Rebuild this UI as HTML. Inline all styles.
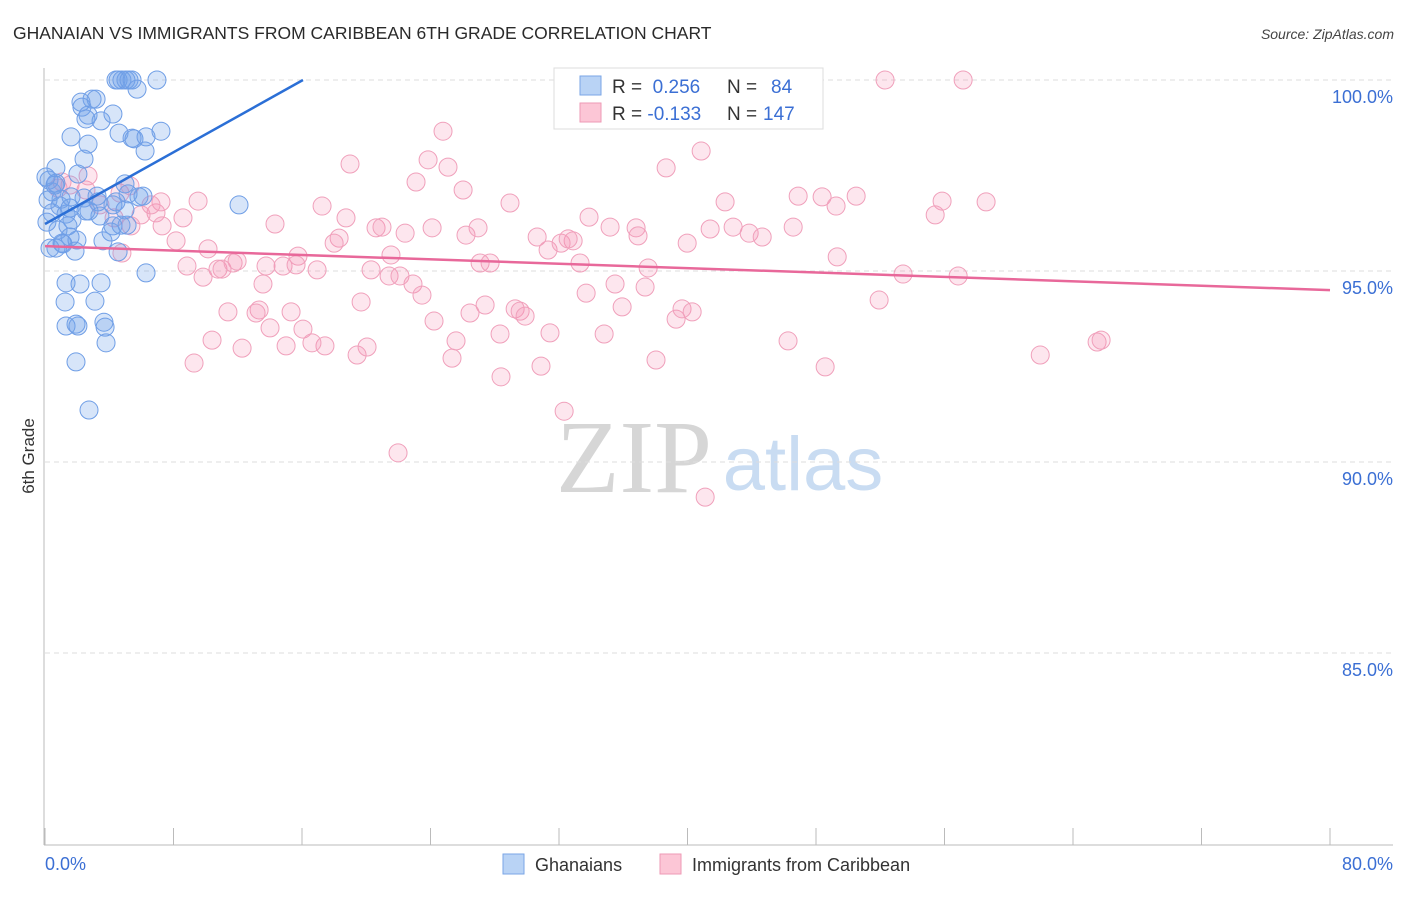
<!DOCTYPE html>
<html><head><meta charset="utf-8"><style>
body{margin:0;background:#fff;font-family:"Liberation Sans",sans-serif;}
</style></head><body>
<svg id="chart" width="1406" height="892" xmlns="http://www.w3.org/2000/svg" style="font-family:'Liberation Sans',sans-serif">
<text x="13" y="39" font-size="17.5" fill="#2a2a2a">GHANAIAN VS IMMIGRANTS FROM CARIBBEAN 6TH GRADE CORRELATION CHART</text>
<text x="1394" y="39" font-size="14" fill="#444" text-anchor="end" font-style="italic">Source: ZipAtlas.com</text>
<text x="34" y="456" font-size="17" fill="#333" text-anchor="middle" transform="rotate(-90 34 456)">6th Grade</text>
<g><text x="634" y="492" font-size="104" fill="#d6d6d6" text-anchor="middle" font-family="Liberation Serif,serif">ZIP</text><text x="803" y="490" font-size="76" fill="#c9dcf2" text-anchor="middle">atlas</text></g>
<g id="grid"></g><g id="axes"></g><g id="pts"></g><g id="lines"></g>
<g>
<rect x="554" y="68" width="269" height="61" fill="#fff" stroke="#ddd"/>
<rect x="580" y="76" width="21" height="19" fill="#b9d3f5" stroke="#7aa6e6"/>
<rect x="580" y="103" width="21" height="19" fill="#fcc6d6" stroke="#ee9ab5"/>
<text x="612" y="93" font-size="19" fill="#333">R = <tspan fill="#3b6fd4">&#160;0.256</tspan><tspan x="727">N = </tspan><tspan x="771" fill="#3b6fd4">84</tspan></text>
<text x="612" y="120" font-size="19" fill="#333">R = <tspan fill="#3b6fd4">-0.133</tspan><tspan x="727">N = </tspan><tspan x="763" fill="#3b6fd4">147</tspan></text>
</g>
<g>
<rect x="503" y="854" width="21" height="20" fill="#b9d3f5" stroke="#7aa6e6"/>
<text x="535" y="871" font-size="18" fill="#333">Ghanaians</text>
<rect x="660" y="854" width="21" height="20" fill="#fcc6d6" stroke="#ee9ab5"/>
<text x="692" y="871" font-size="18" fill="#333">Immigrants from Caribbean</text>
</g>
</svg>
<script>
const xTicks=[0,8,16,24,32,40,48,56,64,72,80];
const yTicks=[100,95,90,85];
const yTickLabels=["100.0%","95.0%","90.0%","85.0%"];
const xEndLabels=["0.0%","80.0%"];
const blueX=[4.42,4.55,4.79,5.04,5.23,5.42,6.97,5.73,2.93,3.18,2.24,2.30,2.68,3.49,2.55,4.23,1.62,4.61,5.42,5.54,7.22,6.29,6.23,2.68,2.43,0.68,2.05,0.25,0.68,4.98,5.17,6.10,1.62,2.43,3.30,4.42,0.44,1.00,0.19,1.31,2.74,3.42,4.23,4.98,1.68,0.81,1.43,4.23,5.11,4.73,1.06,3.61,4.11,1.56,1.99,0.68,0.31,1.12,1.87,4.55,6.29,1.31,2.18,3.49,1.25,3.11,1.31,1.93,3.67,3.74,2.05,3.80,1.93,2.74,12.08,0.44,0.06,0.62,0.93,1.56,2.55,0.12,3.24,5.85];
const blueY=[100,100,100,100,100,100,100,99.76,99.50,99.50,99.42,99.29,99.08,98.93,98.98,99.11,98.51,98.61,98.48,98.46,98.66,98.51,98.14,98.32,97.93,97.70,97.54,97.38,97.30,97.28,97.02,96.96,96.94,96.91,96.81,96.81,97.07,96.88,96.86,96.49,96.57,96.44,96.73,96.60,96.34,96.07,96.18,96.18,96.20,96.20,95.73,95.79,96.02,95.89,95.81,95.60,95.60,95.71,95.52,95.50,94.95,94.69,94.66,94.69,94.19,94.21,93.56,93.61,93.66,93.53,93.56,93.12,92.62,91.36,96.73,96.52,97.46,97.25,96.70,96.65,96.57,96.28,96.96,96.94];
const pinkX=[52.30,57.16,24.78,40.85,18.99,23.85,25.09,38.67,23.10,26.03,28.95,46.89,50.50,48.38,42.34,55.85,58.59,55.42,49.25,17.25,18.74,20.61,24.10,26.21,26.96,22.42,20.98,30.64,32.88,33.87,35.18,36.80,36.92,41.41,42.84,43.84,44.65,46.58,39.98,31.32,32.13,32.57,18.31,18.00,14.32,8.59,9.53,6.91,7.29,8.16,10.15,7.22,5.98,6.60,4.67,5.29,2.55,1.56,1.06,0.81,2.68,3.42,4.30,5.35,4.79,8.84,10.77,11.02,11.71,11.96,13.76,14.82,16.94,15.75,15.63,20.30,21.42,22.10,22.91,21.54,27.09,27.71,33.31,37.55,35.49,37.36,33.69,49.32,53.42,56.85,13.57,9.84,11.39,13.33,13.14,15.32,19.68,23.47,27.40,26.46,29.27,29.58,29.89,28.33,31.44,25.59,24.22,16.06,14.01,10.40,12.27,15.01,17.43,19.43,20.05,16.62,25.34,30.88,34.81,35.93,38.04,39.29,39.66,40.29,46.26,48.57,51.93,61.96,65.50,65.75,28.39,32.32,21.98,41.10,9.28];
const pinkY=[100,100,98.66,98.14,97.80,97.91,97.72,97.70,97.33,97.12,96.78,96.96,96.96,96.94,96.81,96.83,96.81,96.47,96.70,96.70,96.39,96.13,96.13,95.94,96.13,95.99,96.15,95.89,95.79,96.41,96.15,96.13,95.92,96.10,96.15,95.99,95.89,96.15,95.73,95.55,95.73,95.84,95.86,95.73,96.23,96.39,96.83,96.52,96.18,95.79,95.58,96.81,96.47,96.73,97.04,97.23,97.12,97.25,97.33,97.17,97.49,96.73,96.39,96.18,95.47,95.13,95.05,95.05,95.21,95.26,95.13,95.13,95.03,95.39,95.16,95.03,94.87,94.87,94.66,95.42,95.21,95.21,95.21,95.08,94.66,94.58,94.42,95.37,94.92,94.87,94.66,94.84,93.93,93.98,93.90,93.93,94.19,94.37,94.11,93.90,94.01,93.95,93.82,93.35,93.38,93.17,93.69,93.48,93.51,93.19,92.98,93.04,93.04,92.80,93.01,93.12,92.72,92.51,93.35,94.06,92.67,93.74,94.01,93.93,93.17,92.49,94.24,92.80,93.14,93.19,92.23,91.33,90.24,89.08,92.59];
const blueTrend=[[0,96.23],[16.06,100]];
const pinkTrend=[[0,95.65],[80,94.50]];
const NS="http://www.w3.org/2000/svg";
const xs=v=>45+v*(1285/80);
const ys=v=>80+(100-v)*38.2;
function mk(tag,attrs,parent){const e=document.createElementNS(NS,tag);for(const k in attrs)e.setAttribute(k,attrs[k]);document.getElementById(parent).appendChild(e);return e;}
yTicks.forEach((t,i)=>{
  const g=mk('line',{x1:45,x2:1393,y1:ys(t),y2:ys(t),stroke:'#ddd','stroke-dasharray':'5,4'},'grid');
  
  
  const l=mk('text',{x:1393,y:ys(t)+23,'font-size':18,fill:'#3b6fd4','text-anchor':'end'},'axes');
  
  
  l.textContent=yTickLabels[i];
});
const ax=mk('line',{x1:44,x2:44,y1:68,y2:845,stroke:'#bbb'},'axes');


const bx=mk('line',{x1:44,x2:1393,y1:845,y2:845,stroke:'#bbb'},'axes');


xTicks.forEach(t=>{
  const k=mk('line',{x1:xs(t),x2:xs(t),y1:828,y2:845,stroke:'#bbb'},'axes');
  
  
});
const xl0=mk('text',{x:45,y:870,'font-size':18,fill:'#3b6fd4'},'axes');


xl0.textContent=xEndLabels[0];
const xl1=mk('text',{x:1393,y:870,'font-size':18,fill:'#3b6fd4','text-anchor':'end'},'axes');


xl1.textContent=xEndLabels[1];
pinkX.forEach((x,i)=>{
  const c=mk('circle',{cx:xs(x),cy:ys(pinkY[i]),r:9,fill:'rgba(244,140,176,0.22)',stroke:'#f0a0bb','stroke-width':1},'pts');
  
  
});
blueX.forEach((x,i)=>{
  const c=mk('circle',{cx:xs(x),cy:ys(blueY[i]),r:9,fill:'rgba(110,160,232,0.28)',stroke:'#6f9ee6','stroke-width':1},'pts');
  
  
});
const bl=mk('line',{x1:xs(blueTrend[0][0]),y1:ys(blueTrend[0][1]),x2:xs(blueTrend[1][0]),y2:ys(blueTrend[1][1]),stroke:'#2b6fd6','stroke-width':2.5},'lines');


const pl=mk('line',{x1:xs(pinkTrend[0][0]),y1:ys(pinkTrend[0][1]),x2:xs(pinkTrend[1][0]),y2:ys(pinkTrend[1][1]),stroke:'#e8689a','stroke-width':2.5},'lines');


</script>
</body></html>
